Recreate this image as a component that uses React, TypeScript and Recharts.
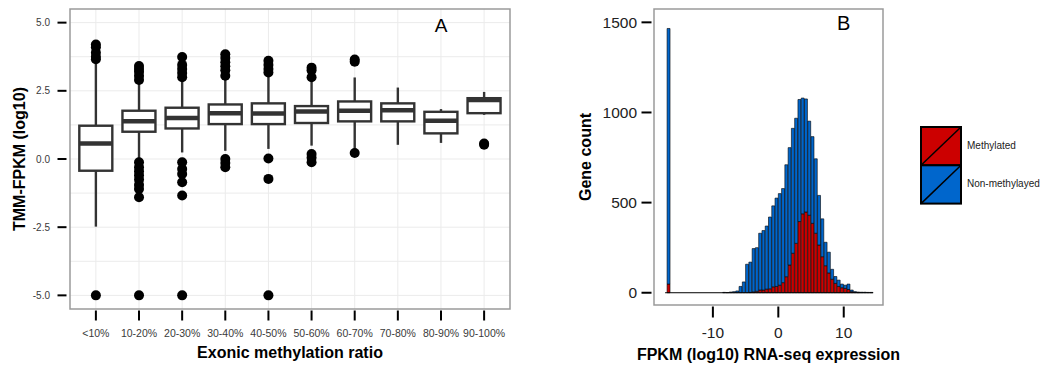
import { ComposedChart, Bar, Scatter, ErrorBar, XAxis, YAxis, CartesianGrid, ReferenceArea, ReferenceDot, ReferenceLine } from "recharts";

const FONT = '"Liberation Sans", Arial, Helvetica, sans-serif';

// Panel A: box plots of expression per exonic methylation ratio bin
const ratioBins = ["<10%", "10-20%", "20-30%", "30-40%", "40-50%", "50-60%", "60-70%", "70-80%", "80-90%", "90-100%"];
const whiskerLow = [-2.48, 0.0, 0.24, 0.3, 0.37, 0.49, 0.37, 0.52, 0.59, 1.62];
const q1 = [-0.43, 1.0, 1.12, 1.28, 1.28, 1.32, 1.38, 1.38, 0.94, 1.68];
const medians = [0.57, 1.38, 1.5, 1.68, 1.67, 1.74, 1.77, 1.79, 1.4, 2.16];
const q3 = [1.22, 1.77, 1.88, 2.0, 2.04, 1.94, 2.11, 2.04, 1.73, 2.23];
const whiskerHigh = [3.55, 2.8, 2.93, 3.0, 3.1, 2.9, 2.99, 2.62, 1.83, 2.46];
const outliers = [
  [4.2, 4.1, 3.9, 3.75, 3.66, -5],
  [3.41, 3.3, 3.2, 3.05, 2.9, -0.12, -0.3, -0.45, -0.6, -0.75, -0.95, -1.1, -1.4, -5],
  [3.74, 3.45, 3.3, 3.15, 3.0, -0.12, -0.37, -0.55, -0.85, -1.34, -5],
  [3.84, 3.7, 3.55, 3.4, 3.25, 3.05, 0.0, -0.15, -0.3],
  [3.6, 3.45, 3.3, 3.17, 0.02, -0.73, -5],
  [3.35, 3.25, 3.0, 0.18, 0.05, -0.12],
  [3.65, 3.57, 0.22],
  [],
  [],
  [0.57, 0.52],
];
const yTicksA = [-5, -2.5, 0, 2.5, 5];
const yGridA = [-5, -3.75, -2.5, -1.25, 0, 1.25, 2.5, 3.75, 5];

// Panel B: histogram of FPKM (log10), stacked by methylation status
const binCenters = [
  -16.75, -8.25, -7.75, -7.25, -6.75, -6.25, -5.75, -5.25, -4.75, -4.25, -3.75, -3.25, -2.75, -2.25, -1.75, -1.25,
  -0.75, -0.25, 0.25, 0.75, 1.25, 1.75, 2.25, 2.75, 3.25, 3.75, 4.25, 4.75, 5.25, 5.75, 6.25, 6.75, 7.25, 7.75,
  8.25, 8.75, 9.25, 9.75, 10.25, 10.75, 11.25, 11.75, 12.25, 12.75, 13.25, 13.75, 14.25,
];
const methylated = [
  48, 0, 0, 0, 0, 0, 0, 0, 0, 2, 5, 8, 15, 15, 20, 22,
  33, 35, 42, 56, 89, 154, 219, 274, 395, 438, 448, 430, 385, 330, 265, 200, 150, 110,
  75, 52, 35, 28, 24, 18, 6, 2, 1, 0, 0, 0, 0,
];
const nonMethylated = [
  1418, 2, 1, 4, 6, 10, 35, 60, 158, 168, 240, 242, 315, 330, 350, 398,
  449, 490, 508, 522, 621, 651, 693, 694, 677, 642, 627, 522, 481, 413, 275, 210, 130, 115,
  55, 38, 35, 20, 18, 30, 9, 4, 3, 3, 3, 2, 2,
];
const seriesNames = ["Methylated", "Non-methylayed"];
const seriesColors = ["#CC0000", "#0066CC"];

const boxRows = ratioBins.map((name, i) => ({ pos: i + 1, name, box: [q1[i], q3[i]], median: medians[i] }));
const whiskerRows = ratioBins.flatMap((_, i) => [
  { pos: i + 1, y: q3[i], err: [0, whiskerHigh[i] - q3[i]] },
  { pos: i + 1, y: q1[i], err: [q1[i] - whiskerLow[i], 0] },
]);
const outlierRows = outliers.flatMap((vals, i) => vals.map((v) => ({ pos: i + 1, value: v })));
const histRows = binCenters.map((x, i) => ({ x, methylated: methylated[i], nonMethylated: nonMethylated[i] }));

const BOX_W = 33;
const INK = "#333333";

const BoxShape = (props: any) => (
  <rect x={props.x} y={props.y} width={props.width} height={props.height} fill="#fff" stroke={INK} strokeWidth={2.4} />
);
const MedianShape = (props: any) => (
  <line x1={props.cx - BOX_W / 2} x2={props.cx + BOX_W / 2} y1={props.cy} y2={props.cy} stroke={INK} strokeWidth={4.5} />
);
const OutlierShape = (props: any) => <circle cx={props.cx} cy={props.cy} r={5} fill="#000" />;
const NoShape = () => <g />;

const titleStyle = { fontSize: 16, fontWeight: "bold", fill: "#000", fontFamily: FONT };

const BoxPanel = () => (
  <ComposedChart width={520} height={368} data={boxRows} margin={{ top: 9, right: 10, bottom: 0, left: 0 }}>
    <CartesianGrid stroke="#ebebeb" strokeWidth={1} horizontalValues={yGridA} verticalValues={ratioBins.map((_, i) => i + 1)} />
    <XAxis
      type="number"
      dataKey="pos"
      domain={[0.4, 10.6]}
      allowDataOverflow
      ticks={ratioBins.map((_, i) => i + 1)}
      interval={0}
      tickFormatter={(v: number) => ratioBins[v - 1]}
      height={59}
      axisLine={false}
      tickSize={10}
      tickMargin={11}
      tickLine={{ stroke: "#000", strokeWidth: 2, transform: "translate(0,1.5)" }}
      tick={{ fill: "#3a3a3a", fontSize: 10.5, fontFamily: FONT }}
      label={{ value: "Exonic methylation ratio", position: "insideBottom", offset: 10, ...titleStyle }}
    />
    <YAxis
      type="number"
      domain={[-5.5, 5.5]}
      allowDataOverflow
      ticks={yTicksA}
      interval={0}
      tickFormatter={(v: number) => v.toFixed(1)}
      width={70}
      axisLine={false}
      tickSize={9}
      tickMargin={11}
      tickLine={{ stroke: "#000", strokeWidth: 2, transform: "translate(-3.5,0)" }}
      tick={{ fill: "#3a3a3a", fontSize: 10, fontFamily: FONT }}
      label={{ value: "TMM-FPKM (log10)", angle: -90, position: "center", dx: -16, ...titleStyle }}
    />
    <Scatter data={whiskerRows} dataKey="y" shape={NoShape} isAnimationActive={false}>
      <ErrorBar dataKey="err" direction="y" width={0} stroke={INK} strokeWidth={2.4} />
    </Scatter>
    <Bar dataKey="box" barSize={BOX_W} shape={BoxShape} isAnimationActive={false} />
    <Scatter data={boxRows} dataKey="median" shape={MedianShape} isAnimationActive={false} />
    <Scatter data={outlierRows} dataKey="value" shape={OutlierShape} isAnimationActive={false} />
    <ReferenceArea x1={0.4} x2={10.6} y1={-5.5} y2={5.5} fill="#fff" fillOpacity={0} stroke="#9a9a9a" strokeWidth={1.5} />
    <ReferenceDot x={9} y={4.92} r={0} stroke="none" label={{ value: "A", position: "center", fontSize: 19, fill: "#000", fontFamily: FONT }} />
  </ComposedChart>
);

const HistPanel = () => (
  <ComposedChart width={345} height={368} data={histRows} margin={{ top: 9, right: 22, bottom: 0, left: 0 }} barCategoryGap={0} barGap={0}>
    <XAxis
      type="number"
      dataKey="x"
      domain={[-19, 16]}
      allowDataOverflow
      ticks={[-10, 0, 10]}
      interval={0}
      height={63}
      axisLine={false}
      tickSize={11}
      tickMargin={11}
      tickLine={{ stroke: "#000", strokeWidth: 2, transform: "translate(0,1.5)" }}
      tick={{ fill: "#222", fontSize: 15.5, fontFamily: FONT }}
      label={{ value: "FPKM (log10) RNA-seq expression", position: "insideBottom", offset: 8, ...titleStyle }}
    />
    <YAxis
      type="number"
      domain={[-68, 1574]}
      allowDataOverflow
      ticks={[0, 500, 1000, 1500]}
      interval={0}
      width={94}
      axisLine={false}
      tickSize={10}
      tickMargin={7}
      tickLine={{ stroke: "#000", strokeWidth: 2, transform: "translate(-2.5,0)" }}
      tick={{ fill: "#222", fontSize: 15.5, fontFamily: FONT }}
      label={{ value: "Gene count", angle: -90, position: "center", dx: -22, ...titleStyle }}
    />
    <Bar dataKey="methylated" name={seriesNames[0]} stackId="g" barSize={3.3} fill={seriesColors[0]} stroke="#000" strokeWidth={0.6} isAnimationActive={false} />
    <Bar dataKey="nonMethylated" name={seriesNames[1]} stackId="g" barSize={3.3} fill={seriesColors[1]} stroke="#000" strokeWidth={0.6} isAnimationActive={false} />
    <ReferenceLine segment={[{ x: -17.3, y: 0 }, { x: 14.5, y: 0 }]} stroke="#000" strokeWidth={1} />
    <ReferenceArea x1={-19} x2={16} y1={-68} y2={1574} fill="#fff" fillOpacity={0} stroke="#9a9a9a" strokeWidth={1.5} />
    <ReferenceDot x={10} y={1495} r={0} stroke="none" label={{ value: "B", position: "center", fontSize: 20, fill: "#000", fontFamily: FONT }} />
  </ComposedChart>
);

const KEY_W = 40;
const KEY_H = 38.3;

const MethylLegend = () => (
  <div style={{ position: "absolute", left: 919.7, top: 125.7 }}>
    <svg width={KEY_W + 3} height={KEY_H * 2 + 3} style={{ display: "block" }}>
      {seriesNames.map((n, i) => (
        <g key={n}>
          <rect x={1} y={1 + i * KEY_H} width={KEY_W} height={KEY_H} fill={seriesColors[i]} stroke="#000" strokeWidth={2} />
          <line x1={1} y1={1 + (i + 1) * KEY_H} x2={1 + KEY_W} y2={1 + i * KEY_H} stroke="#000" strokeWidth={1.5} />
        </g>
      ))}
    </svg>
    {seriesNames.map((n, i) => (
      <div
        key={n}
        style={{ position: "absolute", left: 47.3, top: 14 + i * KEY_H, fontSize: 10, lineHeight: "12px", color: "#222", whiteSpace: "nowrap" }}
      >
        {n}
      </div>
    ))}
  </div>
);

export default function App() {
  return (
    <div style={{ position: "absolute", left: 0, top: 0, width: 1046, height: 368, background: "#fff", fontFamily: FONT, overflow: "hidden" }}>
      <div style={{ position: "absolute", left: 0, top: 0 }}>
        <BoxPanel />
      </div>
      <div style={{ position: "absolute", left: 560, top: 0 }}>
        <HistPanel />
      </div>
      <MethylLegend />
    </div>
  );
}
